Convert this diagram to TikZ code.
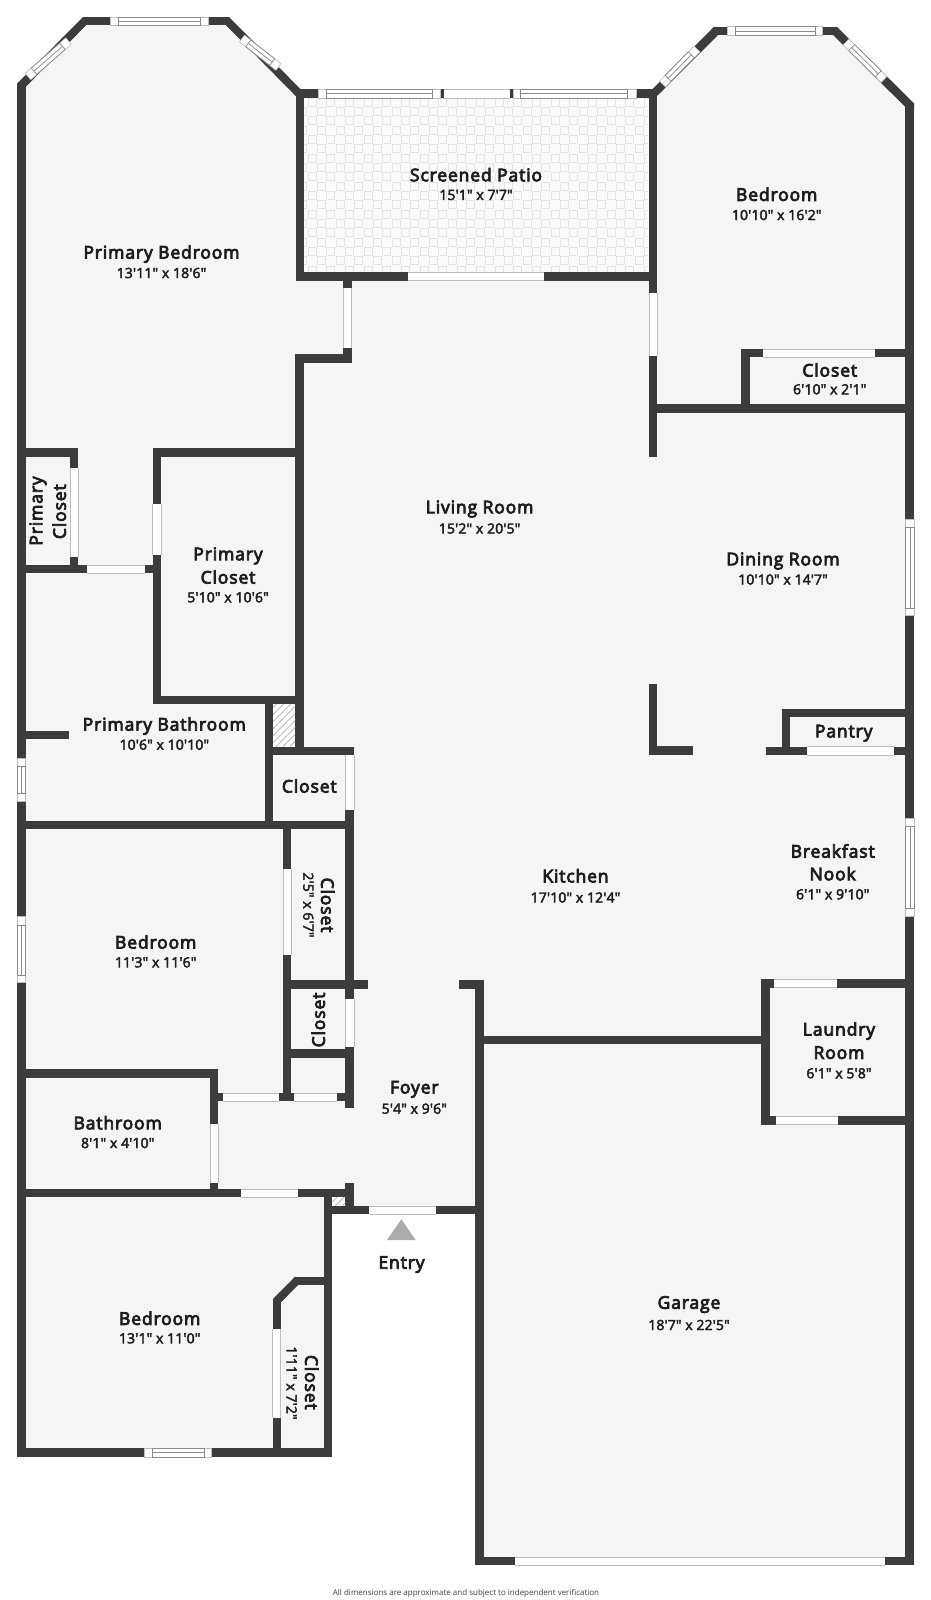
\documentclass[tikz,border=0pt]{standalone}
\usepackage{fontspec}
\usetikzlibrary{calc}
\newfontfamily\namef{Open Sans}[FakeBold=4.5,LetterSpace=5]
\newfontfamily\dimf{Open Sans}[FakeBold=3,LetterSpace=1]
\newfontfamily\footf{Open Sans}
\definecolor{wallc}{HTML}{3C3C3C}
\definecolor{floorc}{HTML}{F5F5F5}
\definecolor{tilec}{HTML}{E4E4E4}
\definecolor{winc}{HTML}{8A8A8A}
\definecolor{doorc}{HTML}{BDBDBD}
\definecolor{txtc}{HTML}{1E1E1E}
\tikzset{
  roomname/.style={inner sep=0pt,text=txtc,font=\namef\fontsize{17.5}{20}\selectfont},
  roomdim/.style={inner sep=0pt,text=txtc,font=\dimf\fontsize{14}{16}\selectfont},
}
\newcommand{\W}[4]{\fill[wallc] (#1,#2) rectangle (#3,#4);}
% door openings
\newcommand{\D}[4]{\fill[white] (#1,#2) rectangle (#3,#4);
  \draw[doorc,line width=0.7pt] (#1,#2) -- (#3,#2) (#1,#4) -- (#3,#4);}
\newcommand{\DV}[4]{\fill[white] (#1,#2) rectangle (#3,#4);
  \draw[doorc,line width=0.7pt] (#1,#2) -- (#1,#4) (#3,#2) -- (#3,#4);}
% horizontal window: x1 x2 inner1 inner2 y1 y2
\newcommand{\HW}[6]{\fill[white] (#1,#5) rectangle (#2,#6);
  \draw[doorc,line width=0.6pt] (#1,#5) rectangle (#2,#6);
  \draw[winc,line width=0.7pt] (#3,#5) rectangle (#4,#6);
  \draw[winc,line width=0.7pt] (#3,{(#5+#6)/2}) -- (#4,{(#5+#6)/2});}
% vertical window: y1 y2 inner1 inner2 x1 x2
\newcommand{\VW}[6]{\fill[white] (#5,#1) rectangle (#6,#2);
  \draw[doorc,line width=0.6pt] (#5,#1) rectangle (#6,#2);
  \draw[winc,line width=0.7pt] (#5,#3) rectangle (#6,#4);
  \draw[winc,line width=0.7pt] ({(#5+#6)/2},#3) -- ({(#5+#6)/2},#4);}
% diagonal window between two points on the wall centre line
\newcommand{\DW}[4]{%
  \coordinate (wa) at (#1,#2); \coordinate (wb) at (#3,#4);
  \coordinate (ia) at ($(wa)!8pt!(wb)$); \coordinate (ib) at ($(wb)!8pt!(wa)$);
  \fill[white] ($(wa)!4.2pt!90:(wb)$) -- ($(wb)!4.2pt!-90:(wa)$) -- ($(wb)!4.2pt!90:(wa)$) -- ($(wa)!4.2pt!-90:(wb)$) -- cycle;
  \draw[doorc,line width=0.6pt] ($(wa)!4.2pt!90:(wb)$) -- ($(wb)!4.2pt!-90:(wa)$) -- ($(wb)!4.2pt!90:(wa)$) -- ($(wa)!4.2pt!-90:(wb)$) -- cycle;
  \draw[winc,line width=0.7pt] ($(ia)!4.2pt!90:(ib)$) -- ($(ib)!4.2pt!-90:(ia)$) -- ($(ib)!4.2pt!90:(ia)$) -- ($(ia)!4.2pt!-90:(ib)$) -- cycle;
  \draw[winc,line width=0.7pt] (ia) -- (ib);}
\newcommand{\HatchBox}[4]{\begin{scope}
  \clip (#1,#2) rectangle (#3,#4);
  \fill[white] (#1,#2) rectangle (#3,#4);
  \foreach \k in {-60,-53,...,100}{\draw[gray!60,line width=0.7pt] (#1+\k,#4) -- ++(60,-60);}
  \end{scope}}
\begin{document}
\begin{tikzpicture}[x=1pt,y=-1pt]
\useasboundingbox (0,0) rectangle (931,1600);
\fill[white] (0,0) rectangle (931,1600);
% floor
\fill[floorc] (21,85) -- (85,21) -- (227,21) -- (300,93) -- (300,276) -- (653,276) -- (653,93)
  -- (716,31) -- (835,31) -- (910,105) -- (910,1561) -- (480,1561) -- (480,1210) -- (328,1210)
  -- (328,1453) -- (21,1453) -- cycle;
% patio tiles
\fill[white!60!floorc] (300,94) rectangle (653,276);
\begin{scope}
  \clip (304,98) rectangle (649,272);
  \foreach \r in {0,...,18}{
    \pgfmathsetmacro{\ofs}{mod(\r,2)*9.33}
    \foreach \c in {-1,...,19}{
      \draw[tilec,line width=1pt] ({308.3+\c*18.67+\ofs},{98.3+\r*9.33}) rectangle ++(8,8);
    }}
\end{scope}
% walls: primary bedroom and patio
\fill[wallc] (17,83.6) -- (83,17) -- (86,25.3) -- (25.7,87) -- (25.7,90) -- (17,90) -- cycle;
\fill[wallc] (229,17) -- (300.7,89.3) -- (295.7,96) -- (226,25.3) -- cycle;
\W{83}{17}{229}{25.3}
\W{17}{84}{25.7}{1457.3}
\W{295.7}{89.3}{653}{98}
\W{295.7}{89.3}{304}{280.7}
\W{295.7}{272}{657.3}{280.7}
\W{649}{89.3}{657.3}{457}
\W{343}{280}{351.6}{362.7}
\W{295}{354}{351.6}{362.7}
\W{295}{354}{303.7}{755}
% upper right bedroom
\fill[wallc] (652.3,89.3) -- (714,26.7) -- (717.7,35.3) -- (657.3,95.7) -- cycle;
\fill[wallc] (836.7,26.7) -- (914,103.3) -- (914,110) -- (905.3,110) -- (905.3,107) -- (833.3,35.3) -- cycle;
\W{714}{26.7}{836.7}{35.3}
\W{905.3}{103.3}{914}{1565.3}
\W{741.3}{348.7}{749.7}{412}
\W{741.3}{348.7}{914}{357}
\W{657}{404.3}{914}{412.7}
% primary closets
\W{25}{448.3}{78.3}{456.7}
\W{70}{448.3}{78.3}{573.3}
\W{25}{564.7}{153}{573.3}
\W{152.7}{448.3}{303.7}{456.7}
\W{152.7}{448.3}{161}{704}
\W{152.7}{695.7}{303.7}{704}
% primary bath
\W{264.7}{696}{273}{829}
\W{264.7}{746.7}{354}{755}
\W{345.3}{746.7}{354}{1107.7}
\W{17}{820.7}{354}{829}
\W{25}{730.7}{69}{739}
% bedroom 2 / closets
\W{283}{829}{291}{1101}
\W{283}{980.3}{368}{988.7}
\W{291}{1049.3}{346}{1057.7}
\W{210}{1069.3}{218}{1197}
\W{17}{1069.3}{218}{1077.7}
\W{210}{1092.7}{346}{1101}
\W{17}{1189}{354}{1197.3}
\W{345.3}{1182.7}{354}{1214}
\W{324}{1205.7}{484}{1214}
\W{324}{1189}{332.3}{1457.3}
\W{17}{1448.3}{332.3}{1457.3}
% last bedroom closet
\W{295}{1276.7}{324}{1285}
\fill[wallc] (295,1276.7) -- (272.7,1299.3) -- (280.7,1302.7) -- (298,1285) -- cycle;
\W{272.7}{1299.3}{280.7}{1450}
% garage, kitchen
\W{475.3}{980.3}{484}{1565.3}
\W{459.3}{980.3}{484}{988.7}
\W{484}{1036}{761}{1044.3}
\W{475.3}{1556.7}{914}{1565.3}
% laundry
\W{761}{979}{769.7}{1124.7}
\W{761}{979}{906}{987.5}
\W{761}{1116.3}{906}{1124.7}
% living room L, pantry
\W{648.7}{684}{657.3}{755}
\W{648.7}{746.3}{693.3}{755}
\W{766.3}{746.5}{906}{755}
\W{781.7}{709}{790}{755}
\W{781.7}{709}{906}{717.3}
% hatched shafts
\HatchBox{273}{704}{295}{746.7}
\HatchBox{332.3}{1197.3}{345.3}{1205.7}
% windows
\HW{110.5}{208}{118}{200.5}{17}{25.3}
\DW{28}{76.5}{68.5}{41}
\DW{242}{38.5}{278.5}{67}
\HW{318.7}{440}{326}{432}{89.3}{98}
\HW{513}{636}{520.7}{627.7}{89.3}{98}
\HW{727.7}{822.7}{735.3}{815}{26.7}{35.3}
\DW{662.5}{84}{697}{49}
\DW{846}{42}{884}{79.5}
\VW{758.3}{801}{766}{793}{17.3}{25.5}
\VW{916.7}{982.7}{925}{975}{17.3}{25.5}
\VW{519}{615.7}{527}{608}{905.7}{914}
\VW{818.7}{916.7}{826.7}{908}{905.7}{914}
\HW{144.3}{211.7}{152}{204}{1448.5}{1457}
% doors
\D{444.3}{89.5}{510}{98}
\D{408}{272.2}{544}{280.7}
\DV{343}{288}{351.6}{348}
\DV{649}{293}{657.3}{356}
\D{762.7}{348.9}{875}{357}
\DV{70}{468.3}{78.3}{556.7}
\D{87.3}{564.9}{145.3}{573.3}
\DV{152.7}{504}{161}{555.3}
\DV{345.3}{755}{354}{810}
\DV{283}{869.3}{291}{955}
\DV{345.3}{999}{354}{1047.3}
\D{222.7}{1092.9}{279.3}{1101}
\D{294}{1092.9}{337}{1101}
\DV{210}{1124}{218}{1183.3}
\D{240.7}{1189.2}{298}{1197.3}
\D{368.7}{1205.9}{436}{1214}
\DV{272.7}{1329}{280.7}{1417.7}
\D{806.7}{746.7}{894}{755}
\D{774.3}{979.2}{837.3}{987.5}
\D{775.7}{1116.5}{837.7}{1124.7}
\D{515}{1556.9}{885}{1565.3}
% entry marker
\fill[gray!65] (401.3,1219.3) -- (415.7,1240) -- (387,1240) -- cycle;
% labels
\node[roomname] (pbn) at (161.5,254) {Primary Bedroom};
\node[roomdim] (pbd) at (161.5,273) {13'11" x 18'6"};
\node[roomname] (spn) at (476,174.7) {Screened Patio};
\node[roomdim] (spd) at (476,195) {15'1" x 7'7"};
\node[roomname] (ubn) at (776.7,194.3) {Bedroom};
\node[roomdim] (ubd) at (776.7,215) {10'10" x 16'2"};
\node[roomname] (ucn) at (829.7,370) {Closet};
\node[roomdim] (ucd) at (829.7,389.3) {6'10" x 2'1"};
\node[roomname] (lrn) at (479.6,509) {Living Room};
\node[roomdim] (lrd) at (479.6,528.5) {15'2" x 20'5"};
\node[roomname] (drn) at (783,561) {Dining Room};
\node[roomdim] (drd) at (783,579.5) {10'10" x 14'7"};
\node[roomname,rotate=90] (pc1) at (38,511) {Primary};
\node[roomname,rotate=90] (pc2) at (59.3,511.7) {Closet};
\node[roomname] (pc3) at (228,555.9) {Primary};
\node[roomname] (pc4) at (228,577) {Closet};
\node[roomdim] (pc5) at (228,597.3) {5'10" x 10'6"};
\node[roomname] (pbt) at (164.3,726) {Primary Bathroom};
\node[roomdim] (pbu) at (164.3,744.7) {10'6" x 10'10"};
\node[roomname] (cl1) at (309.3,786) {Closet};
\node[roomname] (bd2) at (155.7,942) {Bedroom};
\node[roomdim] (bd3) at (155.7,962.3) {11'3" x 11'6"};
\node[roomname,rotate=-90] (cl2) at (327.7,905) {Closet};
\node[roomdim,rotate=-90] (cl3) at (308.3,905) {2'5" x 6'7"};
\node[roomname,rotate=90] (cl4) at (318.3,1020) {Closet};
\node[roomname] (bt1) at (117.7,1122.7) {Bathroom};
\node[roomdim] (bt2) at (117.7,1143) {8'1" x 4'10"};
\node[roomname] (fy1) at (414.3,1089.3) {Foyer};
\node[roomdim] (fy2) at (414.3,1108.7) {5'4" x 9'6"};
\node[roomname] (bd4) at (159.7,1318.3) {Bedroom};
\node[roomdim] (bd5) at (159.7,1338.3) {13'1" x 11'0"};
\node[roomname,rotate=-90] (cl5) at (311.7,1382.3) {Closet};
\node[roomdim,rotate=-90] (cl6) at (291.7,1383) {1'11" x 7'2"};
\node[roomname] (kt1) at (575.5,875.8) {Kitchen};
\node[roomdim] (kt2) at (575.5,897.5) {17'10" x 12'4"};
\node[roomname] (pn1) at (843.7,733.2) {Pantry};
\node[roomname] (bf1) at (832.7,851) {Breakfast};
\node[roomname] (bf2) at (832.7,873.7) {Nook};
\node[roomdim] (bf3) at (832.7,894.3) {6'1" x 9'10"};
\node[roomname] (la1) at (839,1031) {Laundry};
\node[roomname] (la2) at (839,1052.7) {Room};
\node[roomdim] (la3) at (839,1073.3) {6'1" x 5'8"};
\node[roomname] (gr1) at (689,1304.5) {Garage};
\node[roomdim] (gr2) at (689,1325) {18'7" x 22'5"};
\node[roomname] (en1) at (401.5,1264.5) {Entry};
\node[inner sep=0pt,text=black!75,font=\footf\fontsize{8}{10}\selectfont] (ft) at (466,1593.5) {All dimensions are approximate and subject to independent verification};
\end{tikzpicture}
\end{document}
